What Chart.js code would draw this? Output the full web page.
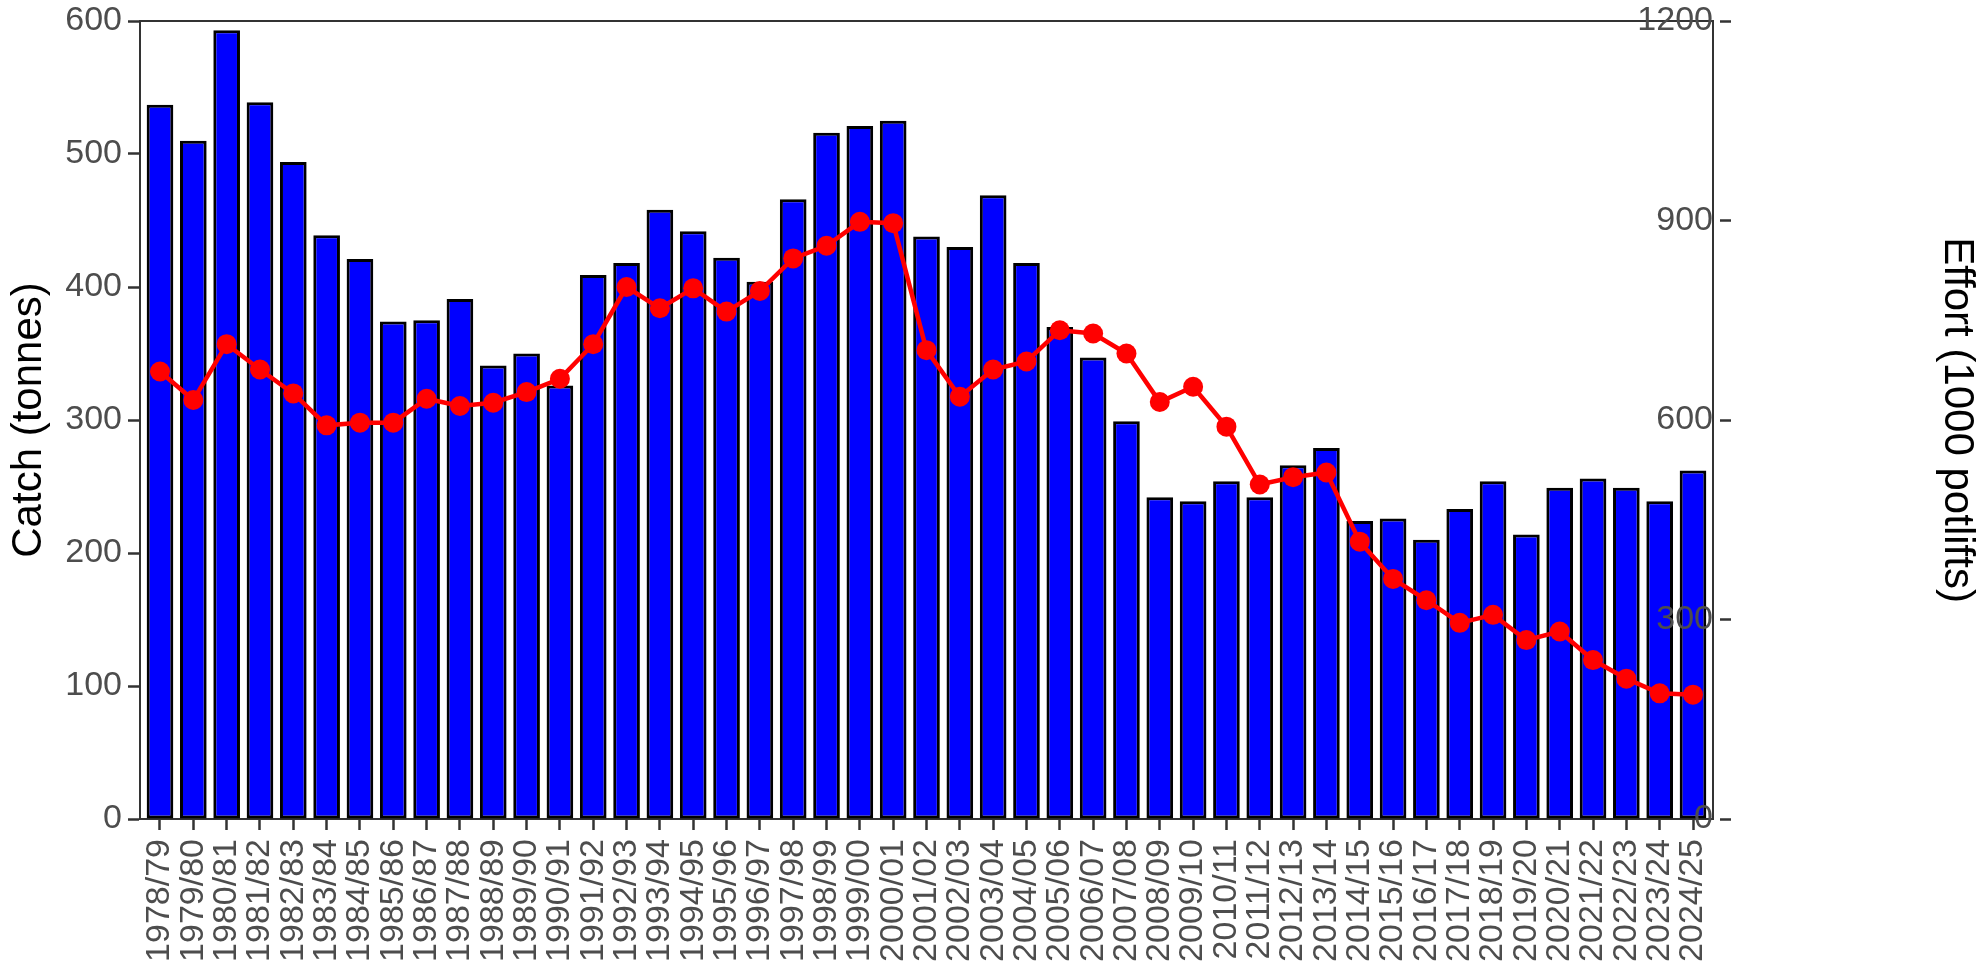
<!DOCTYPE html>
<html>
<head>
<meta charset="utf-8">
<style>
  html, body { margin: 0; padding: 0; background: #fff; }
  #wrap { width: 1986px; height: 967px; }
</style>
<script src="https://cdn.jsdelivr.net/npm/chart.js@4.4.1/dist/chart.umd.min.js"></script>
</head>
<body>
<div id="wrap"><canvas id="chart" width="1986" height="967"></canvas></div>
<script>
const seasons = [
  "1978/79", "1979/80", "1980/81", "1981/82", "1982/83", "1983/84", "1984/85", "1985/86",
  "1986/87", "1987/88", "1988/89", "1989/90", "1990/91", "1991/92", "1992/93", "1993/94",
  "1994/95", "1995/96", "1996/97", "1997/98", "1998/99", "1999/00", "2000/01", "2001/02",
  "2002/03", "2003/04", "2004/05", "2005/06", "2006/07", "2007/08", "2008/09", "2009/10",
  "2010/11", "2011/12", "2012/13", "2013/14", "2014/15", "2015/16", "2016/17", "2017/18",
  "2018/19", "2019/20", "2020/21", "2021/22", "2022/23", "2023/24", "2024/25"
];

// catch in tonnes (bars, left axis)
const catchTonnes = [
  537, 510, 593, 539, 494, 439, 421, 374,
  375, 391, 341, 350, 326, 409, 418, 458,
  442, 422, 404, 466, 516, 521, 525, 438,
  430, 469, 418, 370, 347, 299, 242, 239,
  254, 242, 266, 279, 224, 226, 210, 233,
  254, 214, 249, 256, 249, 239, 262
];

// effort in 1000 potlifts (red line, right axis)
const effort = [
  673, 630, 714, 676, 640, 592, 596, 596,
  632, 621, 626, 642, 662, 714, 800, 768,
  798, 763, 794, 843, 862, 898, 896, 705,
  635, 676, 688, 735, 730, 700, 627, 650,
  590, 503, 514, 521, 417, 361, 329, 295,
  307, 269, 282, 239, 211, 189, 187
];

const catchTicks = [0, 100, 200, 300, 400, 500, 600];
const effortTicks = [0, 300, 600, 900, 1200];

const FONT = "'Liberation Sans', Arial, sans-serif";
const TICK_GREY = "#4d4d4d";
const AXIS_GREY = "#333333";

// fixed box sizes so the plot panel sits where the original one does
function fixBox(size, key) {
  return s => {
    s[key] = size;
    s.paddingTop = 0; s.paddingBottom = 0;
    s.paddingLeft = 0; s.paddingRight = 0;
  };
}

const ctx = document.getElementById("chart").getContext("2d");
new Chart(ctx, {
  type: "bar",
  data: {
    datasets: [
      {
        type: "line",
        label: "Effort",
        data: effort.map((v, i) => ({ x: i, y: v })),
        yAxisID: "y1",
        borderColor: "#ff0000",
        backgroundColor: "#ff0000",
        borderWidth: 4.5,
        pointRadius: 10,
        pointBorderWidth: 0,
        pointBackgroundColor: "#ff0000",
        tension: 0,
        order: 0
      },
      {
        type: "bar",
        label: "Catch",
        data: catchTonnes.map((v, i) => ({ x: i, y: v })),
        yAxisID: "y",
        backgroundColor: "#0000ff",
        borderColor: "#000000",
        borderWidth: 3,
        borderSkipped: false,
        barPercentage: 0.8,
        categoryPercentage: 1,
        order: 1
      }
    ]
  },
  options: {
    responsive: false,
    animation: false,
    layout: { padding: { top: 21, left: 0, right: 0, bottom: 0 } },
    plugins: {
      legend: { display: false },
      tooltip: { enabled: false }
    },
    scales: {
      x: {
        type: "linear",
        position: "bottom",
        min: -0.6,
        max: seasons.length - 0.4,
        offset: false,
        grid: {
          display: true,
          offset: false,
          drawOnChartArea: false,
          drawTicks: true,
          tickLength: 11,
          tickWidth: 2.5,
          tickColor: AXIS_GREY
        },
        border: { display: true, color: AXIS_GREY, width: 2 },
        ticks: {
          stepSize: 1,
          autoSkip: false,
          includeBounds: false,
          minRotation: 90,
          maxRotation: 90,
          padding: 9,
          color: TICK_GREY,
          font: { family: FONT, size: 34 },
          callback: v => seasons[Math.round(v)]
        },
        afterFit: fixBox(148, "height")
      },
      xTop: {
        type: "linear",
        position: "top",
        min: -0.6,
        max: seasons.length - 0.4,
        grid: { display: false },
        border: { display: true, color: AXIS_GREY, width: 2 },
        ticks: { display: false },
        afterFit: fixBox(0, "height")
      },
      y: {
        type: "linear",
        position: "left",
        min: 0,
        max: 600,
        afterBuildTicks: s => { s.ticks = catchTicks.map(v => ({ value: v })); },
        grid: {
          display: true,
          drawOnChartArea: false,
          drawTicks: true,
          tickLength: 12,
          tickWidth: 2.5,
          tickColor: AXIS_GREY
        },
        border: { display: true, color: AXIS_GREY, width: 2 },
        ticks: {
          padding: 6,
          color: TICK_GREY,
          font: { family: FONT, size: 34 },
          callback: v => String(v)
        },
        title: {
          display: true,
          text: "Catch (tonnes)",
          color: "#000000",
          font: { family: FONT, size: 42 },
          padding: { top: 4, bottom: 0 }
        },
        afterFit: fixBox(140, "width")
      },
      y1: {
        type: "linear",
        position: "right",
        min: 0,
        max: 1200,
        afterBuildTicks: s => { s.ticks = effortTicks.map(v => ({ value: v })); },
        grid: {
          display: true,
          drawOnChartArea: false,
          drawTicks: true,
          tickLength: 18,
          tickWidth: 2.5,
          tickColor: AXIS_GREY,
          tickBorderDash: [0, 6, 12, 40]
        },
        border: { display: true, color: AXIS_GREY, width: 2 },
        ticks: {
          mirror: true,
          padding: 0,
          z: 1,
          color: TICK_GREY,
          font: { family: FONT, size: 34 },
          callback: v => String(v)
        },
        title: {
          display: true,
          text: "Effort (1000 potlifts)",
          color: "#000000",
          font: { family: FONT, size: 42 },
          padding: { top: 4, bottom: 0 }
        },
        afterFit: fixBox(273, "width")
      }
    }
  }
});
</script>
</body>
</html>
